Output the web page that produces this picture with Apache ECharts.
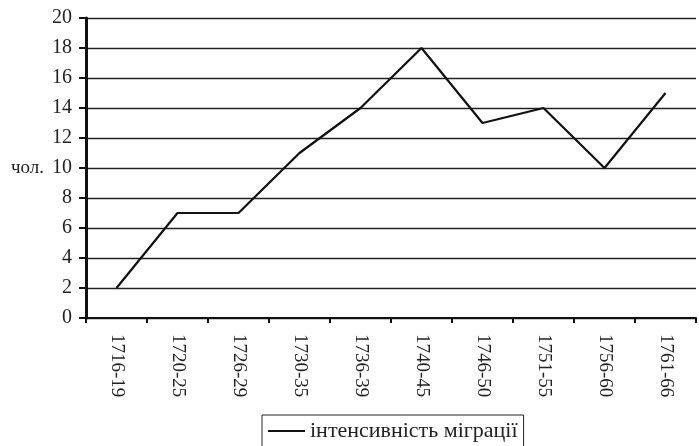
<!DOCTYPE html>
<html>
<head>
<meta charset="utf-8">
<script src="https://cdn.jsdelivr.net/npm/echarts@6/dist/echarts.min.js"></script>
<style>
html,body{margin:0;padding:0;background:#fff;}
#main{width:699px;height:446px;}
</style>
</head>
<body>
<div id="main"></div>
<script>
// періоди
var periods = ['1716-19', '1720-25', '1726-29', '1730-35', '1736-39', '1740-45', '1746-50', '1751-55', '1756-60', '1761-66'];
// кількість осіб
var migrants = [2, 7, 7, 11, 14, 18, 13, 14, 10, 15];
var seriesName = 'інтенсивність міграції';
var yName = 'чол.';

var myChart = echarts.init(document.getElementById('main'));
var serif = '"Liberation Serif", "DejaVu Serif", serif';
var option = {
  animation: false,
  backgroundColor: '#fff',
  grid: {left: 86, right: 3, top: 18, bottom: 128},
  legend: {
    data: [seriesName],
    left: 262,
    top: 415,
    padding: [5, 6, 10, 6],
    borderColor: '#222',
    borderWidth: 1,
    icon: 'rect',
    itemWidth: 37,
    itemHeight: 2,
    itemGap: 4,
    textStyle: {fontFamily: serif, fontSize: 22, color: '#222'}
  },
  xAxis: {
    type: 'category',
    data: periods,
    boundaryGap: true,
    axisLine: {lineStyle: {color: '#111', width: 2}},
    axisTick: {show: true, length: 5, lineStyle: {color: '#111', width: 2}},
    axisLabel: {rotate: -90, margin: 16, fontFamily: serif, fontSize: 19, color: '#222'}
  },
  yAxis: {
    type: 'value',
    min: 0,
    max: 20,
    interval: 2,
    name: yName,
    nameLocation: 'middle',
    nameRotate: 0,
    nameGap: 42,
    nameTextStyle: {fontFamily: serif, fontSize: 19, color: '#222', align: 'right'},
    axisLine: {show: true, lineStyle: {color: '#111', width: 3}},
    axisTick: {show: true, length: 7, lineStyle: {color: '#111', width: 2}},
    axisLabel: {margin: 14, fontFamily: serif, fontSize: 20, color: '#222'},
    splitLine: {lineStyle: {color: '#222', width: 1.3}}
  },
  series: [{
    name: seriesName,
    type: 'line',
    data: migrants,
    symbol: 'none',
    lineStyle: {color: '#111', width: 2.2},
    itemStyle: {color: '#111'}
  }]
};
myChart.setOption(option);
</script>
</body>
</html>
